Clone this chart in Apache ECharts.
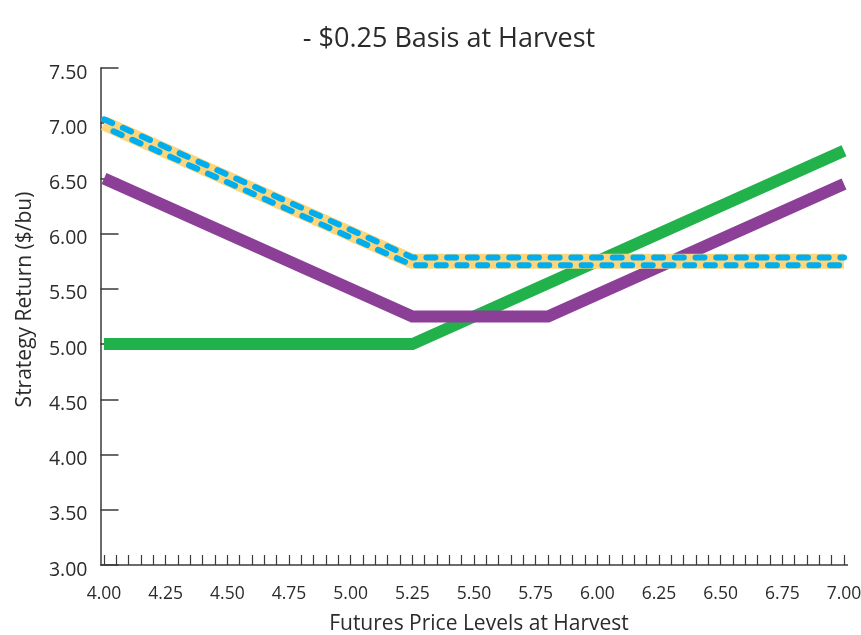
<!DOCTYPE html>
<html>
<head>
<meta charset="utf-8">
<script src="https://cdn.jsdelivr.net/npm/echarts@6/dist/echarts.min.js"></script>
<style>
  html, body { margin: 0; padding: 0; background: #ffffff; }
  #chart { width: 861px; height: 635px; }
</style>
</head>
<body>
<div id="chart"></div>
<script>
// Futures price levels at harvest ($/bu) and strategy returns ($/bu)
const greenPrices   = [4.00, 5.25, 7.00];
const greenReturns  = [5.00, 5.00, 6.75];

const purplePrices  = [4.00, 5.25, 5.80, 7.00];
const purpleReturns = [6.50, 5.25, 5.25, 6.45];

const yellowPrices  = [4.00, 5.25, 7.00];
const yellowReturns = [7.00, 5.75, 5.75];

const blueUpperPrices  = [4.00, 5.25, 7.00];
const blueUpperReturns = [7.035, 5.785, 5.785];
const blueLowerPrices  = [4.00, 5.25, 7.00];
const blueLowerReturns = [6.965, 5.715, 5.715];

const xTickLabels = ['4.00','4.25','4.50','4.75','5.00','5.25','5.50','5.75','6.00','6.25','6.50','6.75','7.00'];
const yTickLabels = ['3.00','3.50','4.00','4.50','5.00','5.50','6.00','6.50','7.00','7.50'];

const FONT = '"Open Sans", "Noto Sans", sans-serif';
const TEXT = '#2b2b2b';
const AXIS = '#3a3a3a';

function pairs(xs, ys) { return xs.map((x, i) => [x, ys[i]]); }

const chart = echarts.init(document.getElementById('chart'), null, { renderer: 'canvas' });

const dash = { width: 6, color: '#00aeef', type: [9, 11.7], cap: 'round', join: 'round' };

chart.setOption({
  animation: false,
  backgroundColor: '#ffffff',
  title: {
    text: '- $0.25 Basis at Harvest',
    left: 444, top: 21, textAlign: 'center',
    textStyle: { fontFamily: FONT, fontSize: 27, fontWeight: 'normal', color: TEXT }
  },
  grid: { left: 104, right: 17, top: 68, bottom: 70, containLabel: false, outerBoundsMode: 'none' },
  xAxis: {
    type: 'value', min: 4, max: 7, interval: 0.25,
    name: 'Futures Price Levels at Harvest', nameLocation: 'middle', nameGap: 49,
    nameTextStyle: { fontFamily: FONT, fontSize: 21, color: TEXT, padding: [0, 0, 0, 10] },
    axisLine: { show: false },
    axisTick: { show: true, inside: true, length: 10, lineStyle: { color: AXIS, width: 1.2 } },
    minorTick: { show: true, splitNumber: 5, length: 10, lineStyle: { color: AXIS, width: 1.2 } },
    splitLine: { show: false },
    axisLabel: {
      margin: 20, fontFamily: FONT, fontSize: 17.5, color: TEXT,
      formatter: v => xTickLabels[Math.round((v - 4) / 0.25)] || ''
    }
  },
  yAxis: {
    type: 'value', min: 3, max: 7.5, interval: 0.5, offset: 3.5,
    name: 'Strategy Return ($/bu)', nameLocation: 'middle', nameGap: 65, nameRotate: 90,
    nameTextStyle: { fontFamily: FONT, fontSize: 21, color: TEXT, padding: [0, 0, 0, 34] },
    axisLine: { show: true, lineStyle: { color: AXIS, width: 1.5 } },
    axisTick: { show: true, inside: true, length: 18, lineStyle: { color: AXIS, width: 1.5 } },
    splitLine: { show: false },
    axisLabel: {
      margin: 13, color: TEXT,
      formatter: v => '{t|' + (yTickLabels[Math.round((v - 3) / 0.5)] || '') + '}',
      rich: { t: { fontFamily: FONT, fontSize: 19.5, color: TEXT, padding: [10, 0, 0, 0] } }
    }
  },
  series: [
    {
      type: 'line', data: pairs(greenPrices, greenReturns), symbol: 'none', z: 2,
      lineStyle: { color: '#22b24c', width: 12, cap: 'butt', join: 'miter' }
    },
    {
      type: 'line', data: pairs(purplePrices, purpleReturns), symbol: 'none', z: 3,
      lineStyle: { color: '#8b3f96', width: 12, cap: 'butt', join: 'miter' }
    },
    {
      type: 'line', data: pairs(yellowPrices, yellowReturns), symbol: 'none', z: 4,
      lineStyle: { color: '#fdd67c', width: 15, cap: 'butt', join: 'miter' }
    },
    {
      type: 'line', data: pairs(blueUpperPrices, blueUpperReturns), symbol: 'none', z: 5,
      lineStyle: Object.assign({}, dash, { dashOffset: 0 })
    },
    {
      type: 'line', data: pairs(blueLowerPrices, blueLowerReturns), symbol: 'none', z: 5,
      lineStyle: Object.assign({}, dash, { dashOffset: 10.35 })
    }
  ]
});

// Bottom axis line runs slightly past the plotting area on both sides
const p0 = chart.convertToPixel({ gridIndex: 0 }, [4, 3]);
const p1 = chart.convertToPixel({ gridIndex: 0 }, [7, 3]);
chart.setOption({
  graphic: [{
    type: 'line', z: 10,
    shape: { x1: p0[0] - 3.5, y1: p0[1], x2: p1[0] + 4, y2: p1[1] },
    style: { stroke: AXIS, lineWidth: 1.5 }
  }]
});
</script>
</body>
</html>
